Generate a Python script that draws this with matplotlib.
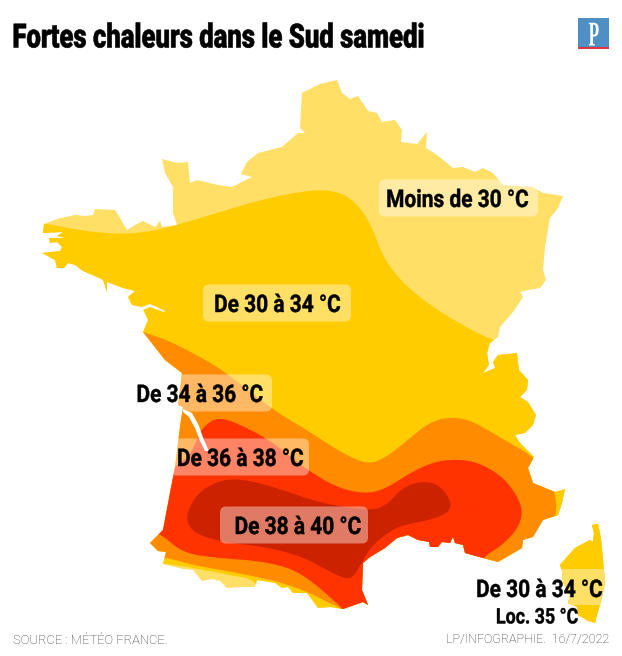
import numpy as np
import matplotlib
matplotlib.use("Agg")
import matplotlib.pyplot as plt
from matplotlib.patches import PathPatch, Polygon, FancyBboxPatch, Rectangle
from matplotlib.path import Path
from matplotlib.transforms import Affine2D
import matplotlib.patheffects as pe

W, H = 622, 656

TITLE = "Fortes chaleurs dans le Sud samedi"
SOURCE = "SOURCE : MÉTÉO FRANCE."
CREDIT = "LP/INFOGRAPHIE.  16/7/2022"

# colour per temperature band
COL_LT30 = "#FFDF66"
COL_30_34 = "#FFCC00"
COL_34_36 = "#FF8C00"
COL_36_38 = "#FF3300"
COL_38_40 = "#CC2200"

# map shapes (x, y in image pixels)
mainland = [
    (320,84),(337,80),(342,93),(350,99),(358,96),(368,111),(377,113),(382,122),(395,120),(402,130),
    (401,142),(417,144),(427,132),(426,148),(437,155),(453,168),(463,167),(475,172),(483,168),(493,173),
    (503,185),(533,187),(543,193),(563,196),(558,208),(550,218),(545,247),(543,270),(546,280),(540,288),
    (528,290),(520,292),(523,297),(513,312),(500,327),(498,337),(490,343),(487,353),(489,365),(483,373),
    (495,368),(493,362),(498,355),(517,353),(519,370),(528,380),(527,390),(520,397),(528,402),(536,415),
    (533,425),(525,433),(515,435),(520,443),(534,457),(528,468),(533,483),(555,492),(565,489),(562,503),
    (558,515),(543,520),(533,537),(523,540),(522,548),(498,562),(483,558),(465,553),(463,545),(455,543),
    (453,537),(450,543),(442,542),(438,547),(430,547),(429,542),(418,540),(408,535),(397,538),(385,548),
    (370,557),(363,563),(362,590),(368,605),(363,602),(343,609),(330,607),(318,608),(307,593),(293,593),
    (288,587),(282,588),(275,583),(257,580),(255,587),(243,587),(227,588),(220,581),(212,579),(202,581),
    (193,570),(183,569),(163,564),(166,552),(158,551),(150,543),(163,530),(170,493),(175,467),(180,427),
    (183,407),(178,405),(182,373),(165,360),(143,332),(148,320),(142,307),(132,305),(128,297),(135,291),
    (123,288),(115,285),(107,282),(107,292),(103,280),(97,277),(83,271),(75,265),(68,263),(64,268),
    (57,268),(55,260),(42,253),(60,251),(62,247),(57,242),(50,243),(49,238),(66,238),(57,236),
    (63,232),(43,233),(44,224),(60,218),(75,215),(85,216),(93,215),(95,209),(115,210),(120,218),
    (127,230),(135,225),(143,221),(155,227),(160,221),(162,227),(177,225),(173,213),(173,187),(165,173),
    (162,159),(177,163),(188,162),(190,183),(197,180),(218,185),(232,187),(252,177),(241,174),(247,162),
    (258,153),(282,147),(298,133),(305,133),(300,128),(302,93),
]
corsica = [
    (592,525),(598,524),(601,538),(603,558),(605,582),(602,598),(598,612),(595,623),(588,621),(578,615),
    (577,607),(568,603),(570,595),(563,582),(562,570),(560,565),(567,557),(575,548),(590,540),(593,542),
    (594,533),
]
corsica_yellow = [(550,500),(622,500),(622,640),(550,640)]
corsica_light = [(550,569),(615,569),(615,605),(550,605)]

band_30_34 = [
    (20,222),(43,223),(67,228),(100,233),(133,234),(167,228),(217,213),(267,198),(317,189),(343,193),
    (360,207),(372,227),(383,257),(400,280),(423,300),(450,318),(490,340),(600,380),(600,640),(345,630),
    (262,605),(257,580),(230,575),(193,568),(163,563),(120,565),(10,400),
]
band_34_36 = [
    (120,325),(143,332),(167,340),(193,353),(223,370),(273,410),(307,430),(337,450),(367,465),(387,457),
    (410,438),(430,422),(450,417),(470,420),(493,433),(513,445),(534,457),(548,478),(555,490),(557,516),
    (540,600),(345,620),(343,609),(327,602),(310,593),(283,583),(257,577),(227,571),(193,565),(168,558),
    (155,557),(130,556),(90,450),
]
band_36_38 = [
    (217,417),(237,423),(270,440),(303,467),(337,488),(367,494),(387,488),(410,473),(433,462),(457,459),
    (480,463),(503,477),(518,497),(523,513),(517,530),(500,547),(483,557),(460,590),(380,625),(345,615),
    (343,609),(330,597),(310,580),(290,568),(260,561),(217,558),(183,553),(162,535),(140,525),(140,480),
    (172,470),(190,455),(197,440),(202,428),
]
band_38_40 = [
    (185,517),(197,493),(220,480),(243,479),(277,488),(320,503),(370,511),(387,505),(403,487),(423,481),
    (440,485),(452,503),(448,513),(430,520),(403,525),(387,533),(370,548),(360,566),(353,577),(345,579),
    (323,568),(303,557),(267,547),(222,542),(193,533),
]
gironde = [(183,409),(192,413),(199,426),(204,440),(209,451),(205,451),(200,441),(195,428),(189,417),(183,412)]
loire = [(142,307),(150,304),(165,311),(164,312),(150,307),(143,310)]

# label text, centre x, centre y, box left, box right
labels = ["Moins de 30 °C", "De 30 à 34 °C", "De 34 à 36 °C", "De 36 à 38 °C", "De 38 à 40 °C"]
label_x = [457, 277, 199.5, 240, 297.5]
label_y = [198, 303, 393, 457, 525]
box_left = [379, 203, 133, 170, 220]
box_right = [538, 351, 272, 309, 368]


class Squeeze(pe.AbstractPathEffect):
    # no condensed face installed, so narrow the glyphs when they get drawn
    def __init__(self, k, stroke=0.0, anchor=0.5):
        super().__init__()
        self.k = k
        self.stroke = stroke
        self.anchor = anchor

    def draw_path(self, renderer, gc, tpath, affine, rgbFace=None):
        box = tpath.get_extents(affine)
        cx = box.x0 + box.width * self.anchor
        squeezed = affine + Affine2D().translate(-cx, 0).scale(self.k, 1).translate(cx, 0)
        gc0 = renderer.new_gc()
        gc0.copy_properties(gc)
        gc0.set_linewidth(self.stroke)
        gc0.set_foreground(rgbFace)
        renderer.draw_path(gc0, tpath, squeezed, rgbFace)
        gc0.restore()


def smooth(points, rounds=3):
    # corner cutting, enough to get the soft isotherm edges
    pts = np.array(points, dtype=float)
    for _ in range(rounds):
        nxt = np.roll(pts, -1, axis=0)
        pts = np.column_stack([0.75 * pts + 0.25 * nxt, 0.25 * pts + 0.75 * nxt]).reshape(-1, 2)
    return pts


fig = plt.figure(figsize=(W / 100, H / 100), dpi=100)
ax = fig.add_axes([0, 0, 1, 1])
ax.set_xlim(0, W)
ax.set_ylim(H, 0)
ax.axis("off")

land = Path.make_compound_path(Path(mainland + mainland[:1], closed=True), Path(corsica + corsica[:1], closed=True))
clip = PathPatch(land, facecolor=COL_LT30, edgecolor="none", zorder=1)
ax.add_patch(clip)

for shape, col, z, rounds in [
    (band_30_34, COL_30_34, 2, 3),
    (corsica_yellow, COL_30_34, 2, 0),
    (corsica_light, COL_LT30, 3, 0),
    (band_34_36, COL_34_36, 4, 3),
    (band_36_38, COL_36_38, 5, 3),
    (band_38_40, COL_38_40, 6, 3),
]:
    p = Polygon(smooth(shape, rounds), closed=True, facecolor=col, edgecolor="none", zorder=z)
    ax.add_patch(p)
    p.set_clip_path(clip)

for shape in [gironde, loire]:
    ax.add_patch(Polygon(shape, closed=True, facecolor="white", edgecolor="none", zorder=7))

for txt, x, y, left, right in zip(labels, label_x, label_y, box_left, box_right):
    ax.add_patch(FancyBboxPatch((left, y - 18.5), right - left, 37,
                                boxstyle="round,pad=0,rounding_size=6",
                                facecolor="white", edgecolor="none", alpha=0.4, zorder=8))
    ax.text(x, y, txt, family="Roboto", weight="bold", fontsize=17.5, ha="center", va="center_baseline",
            color="black", zorder=9, path_effects=[Squeeze(0.86, 0.3)])

ax.text(539, 588, "De 30 à 34 °C", family="Roboto", weight="bold", fontsize=17.5, ha="center", va="center_baseline",
        zorder=9, path_effects=[Squeeze(0.86, 0.3)])
ax.text(537, 615, "Loc. 35 °C", family="Roboto", weight="bold", fontsize=15.5, ha="center", va="center_baseline",
        zorder=9, path_effects=[Squeeze(0.83, 0.3)])

# left anchored so the unsqueezed layout box still sits inside the figure
ax.text(12, 35, TITLE, family="Roboto", weight="black", fontsize=24, ha="left", va="center_baseline",
        color="black", zorder=9, path_effects=[Squeeze(0.77, 0.4, anchor=0.0)])

ax.text(13, 640, SOURCE, family="Roboto", weight="light", fontsize=9.4, ha="left", va="center", color="#333333")
ax.text(609, 640, CREDIT, family="Roboto", weight="light", fontsize=9, ha="right", va="center", color="#333333")

# paper logo
ax.add_patch(Rectangle((578, 18), 31, 29, facecolor="#4F8FC4", edgecolor="none"))
ax.add_patch(Rectangle((578, 47), 31, 2, facecolor="#E8303A", edgecolor="none"))
ax.text(594, 33, "P", family="Liberation Serif", weight="bold", fontsize=25, ha="center", va="center_baseline",
        color="white", path_effects=[Squeeze(0.5)])

fig.savefig("out.png", dpi=100)
